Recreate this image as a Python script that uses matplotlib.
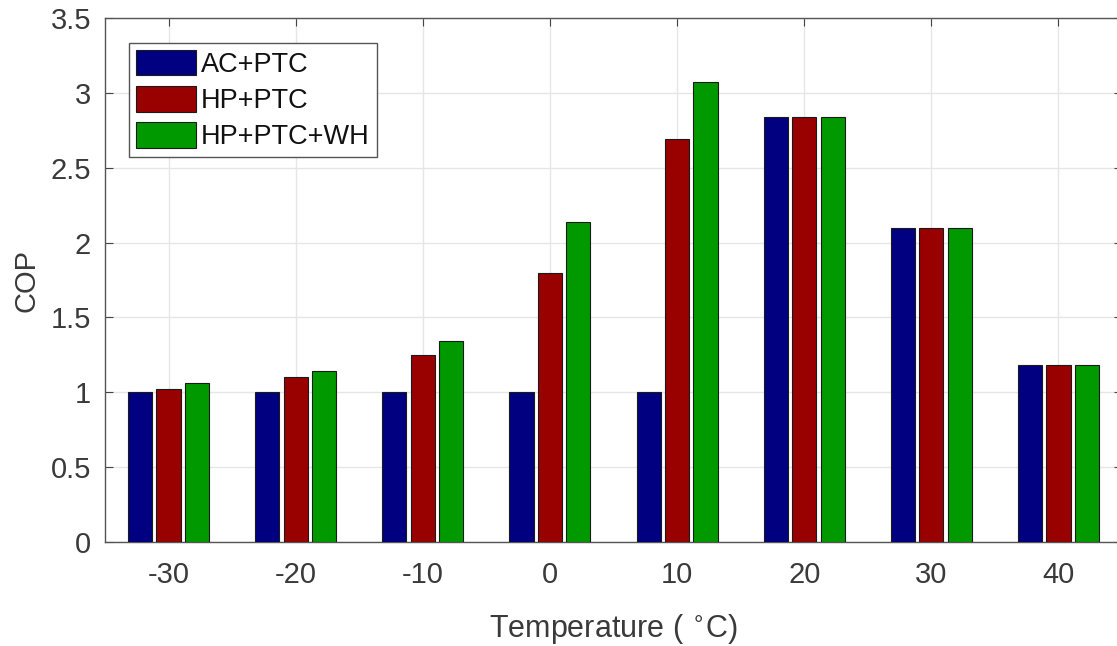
import numpy as np
import matplotlib
matplotlib.use("Agg")
import matplotlib.pyplot as plt

# COP per ambient temperature
temps = [-30, -20, -10, 0, 10, 20, 30, 40]
series_names = ["AC+PTC", "HP+PTC", "HP+PTC+WH"]
ac_ptc = [1.0, 1.0, 1.0, 1.0, 1.0, 2.84, 2.10, 1.18]
hp_ptc = [1.02, 1.10, 1.25, 1.80, 2.69, 2.84, 2.10, 1.18]
hp_ptc_wh = [1.06, 1.14, 1.34, 2.14, 3.07, 2.84, 2.10, 1.18]
colors = ["#000080", "#990000", "#009900"]

plt.rcParams['font.family'] = ['Liberation Sans', 'DejaVu Sans']
txt = '#3a3a3a'

fig = plt.figure(figsize=(11.17, 6.46), dpi=100)
ax = fig.add_axes([105 / 1117, 1 - 542 / 646, 1017 / 1117, 524 / 646])

x = np.arange(1, len(temps) + 1)
width = 0.19
offset = 0.224
for i, (vals, name, c) in enumerate(zip([ac_ptc, hp_ptc, hp_ptc_wh], series_names, colors)):
    ax.bar(x + (i - 1) * offset, vals, width, color=c, edgecolor='#1a1a1a',
           linewidth=0.8, label=name, zorder=3)

ax.set_xlim(0.5, 8.5)
ax.set_ylim(0, 3.5)
ax.set_xticks(x)
ax.set_xticklabels([str(t) for t in temps])
ax.set_yticks(np.arange(0, 3.51, 0.5))
ax.set_yticklabels(['0', '0.5', '1', '1.5', '2', '2.5', '3', '3.5'])
ax.tick_params(direction='in', length=6, width=0.8, labelsize=21, colors='#444444',
               labelcolor=txt, top=True, right=True)
ax.tick_params(axis='x', pad=14)
ax.tick_params(axis='y', pad=10)
ax.grid(True, color='#e6e6e6', linewidth=1.0, zorder=0)
ax.set_axisbelow(True)
for s in ax.spines.values():
    s.set_color('#555555')
    s.set_linewidth(1.0)

ax.set_xlabel(r'Temperature ( $^{\circ}$C)', fontsize=22, color=txt, labelpad=16)
ax.set_ylabel('COP', fontsize=21, color=txt, labelpad=7)

leg = ax.legend(loc='upper left', bbox_to_anchor=(0.024, 0.953), fontsize=19.5,
                fancybox=False, framealpha=1, edgecolor='#555555',
                handlelength=2.2, handleheight=1.07, handletextpad=0.18,
                labelspacing=0.31, borderpad=0.26, borderaxespad=0)
leg.get_frame().set_linewidth(1.0)
for t in leg.get_texts():
    t.set_color('#111111')

fig.savefig('out.png', dpi=100)
